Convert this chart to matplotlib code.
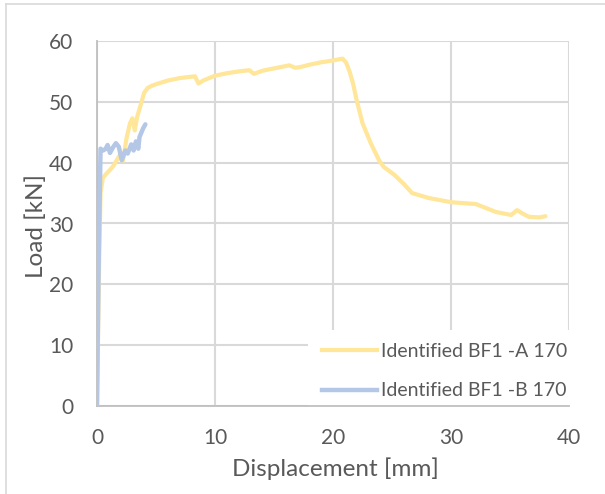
import matplotlib
matplotlib.use("Agg")
import matplotlib.pyplot as plt
from matplotlib.patches import Rectangle
from matplotlib.lines import Line2D

plt.rcParams['font.family'] = ['Lato', 'DejaVu Sans']

# Load-displacement curves
disp_a = [0, 0.15, 0.3, 0.5, 0.8, 1.1, 1.4, 1.7, 2.0, 2.2, 2.5, 2.8, 3.0, 3.2, 3.4,
          3.7, 4.0, 4.3, 4.6, 5.0, 6.0, 7.0, 8.3, 8.6, 9.0, 10.0, 11.0, 12.0, 12.9,
          13.3, 14.0, 15.0, 16.3, 16.8, 17.2, 18.0, 19.0, 20.0, 20.8, 21.1, 21.4,
          21.7, 22.0, 22.5, 23.2, 23.9, 24.3, 25.2, 26.0, 26.7, 28.1, 30.0, 32.1,
          33.8, 35.1, 35.6, 36.1, 36.6, 37.5, 38.0]
load_a = [0, 20, 35, 37.5, 38.2, 38.8, 39.5, 40.5, 41.5, 40.3, 44, 46.5, 47.3, 45.3,
          47.5, 49.5, 51.5, 52.3, 52.6, 52.9, 53.5, 53.9, 54.2, 53.0, 53.5, 54.3,
          54.7, 55.0, 55.2, 54.6, 55.1, 55.5, 56.0, 55.6, 55.7, 56.1, 56.5, 56.8,
          57.1, 56.5, 55.0, 53.0, 50.3, 46.5, 43.2, 40.4, 39.3, 38.0, 36.5, 35.0,
          34.2, 33.5, 33.2, 31.9, 31.4, 32.2, 31.6, 31.1, 31.0, 31.2]

disp_b = [0, 0.15, 0.3, 0.5, 0.7, 0.9, 1.1, 1.35, 1.6, 1.85, 2.1, 2.4, 2.6, 2.9,
          3.1, 3.3, 3.5, 3.6, 3.9, 4.1]
load_b = [0, 25, 42.3, 42.0, 42.2, 42.9, 41.6, 42.5, 43.2, 42.6, 40.4, 42.0, 41.5,
          43.0, 42.0, 43.5, 42.3, 44.2, 45.6, 46.3]

label_a = "Identified BF1 -A 170"
label_b = "Identified BF1 -B 170"
color_a = "#FFE699"
color_b = "#B4C7E7"

x_ticks = [0, 10, 20, 30, 40]
y_ticks = [0, 10, 20, 30, 40, 50, 60]

W, H = 605, 494
fig = plt.figure(figsize=(W / 100, H / 100), dpi=100)
ax = fig.add_axes([97 / W, 1 - 406 / H, (569 - 97) / W, (406 - 41) / H])

text_color = "#595959"
grid_color = "#D9D9D9"

ax.set_xlim(0, 40)
ax.set_ylim(0, 60)
ax.set_xticks(x_ticks)
ax.set_yticks(y_ticks)
ax.set_axisbelow(True)
ax.grid(True, color=grid_color, linewidth=1.5)
for side in ("top", "right"):
    ax.spines[side].set_visible(False)
for side in ("left", "bottom"):
    ax.spines[side].set_color("#BFBFBF")
    ax.spines[side].set_linewidth(1.3)
ax.tick_params(length=0, labelsize=15, labelcolor=text_color)
ax.tick_params(axis="y", pad=17)
ax.tick_params(axis="x", pad=16)

ax.plot(disp_a, load_a, color=color_a, linewidth=3.0, solid_joinstyle="round",
        solid_capstyle="round", zorder=3)
ax.plot(disp_b, load_b, color=color_b, linewidth=3.2, solid_joinstyle="round",
        solid_capstyle="round", zorder=4)

# white legend area hiding the grid
ax.add_patch(Rectangle(((308 - 97) / 472, 0), 1 - (308 - 97) / 472, (406 - 330) / 365,
                       transform=ax.transAxes, facecolor="white", edgecolor="none",
                       zorder=1))

handles = [Line2D([], [], color=color_a, linewidth=3.0),
           Line2D([], [], color=color_b, linewidth=3.2)]
leg = ax.legend(handles, [label_a, label_b], loc="upper left",
                bbox_to_anchor=((322 - 97) / 472, (406 - 343) / 365),
                frameon=False, fontsize=14, borderpad=0, borderaxespad=0,
                handlelength=2.83, handletextpad=0.2, labelspacing=1.15)
for t in leg.get_texts():
    t.set_color(text_color)

fig.text(335 / W, 1 - 469 / H, "Displacement [mm]", ha="center", va="center",
         fontsize=17.5, color=text_color)
fig.text(36 / W, 1 - 226 / H, "Load [kN]", ha="center", va="center",
         rotation=90, fontsize=17.5, color=text_color)

# chart area border
fig.add_artist(Line2D([5.5 / W, 1], [1 - 4.5 / H, 1 - 4.5 / H], color="#D9D9D9",
                      linewidth=1.2, transform=fig.transFigure))
fig.add_artist(Line2D([5.5 / W, 5.5 / W], [0, 1 - 4.5 / H], color="#D9D9D9",
                      linewidth=1.2, transform=fig.transFigure))

fig.savefig("out.png", dpi=100, facecolor="white")
